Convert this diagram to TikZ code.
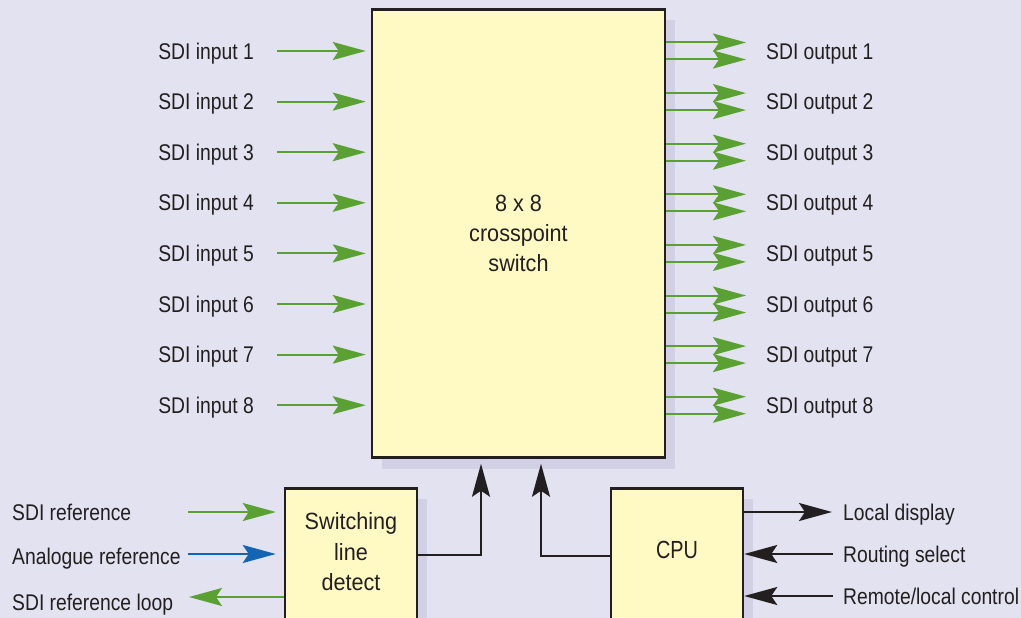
\documentclass[tikz,border=0pt]{standalone}
\usepackage{fontspec}
\setmainfont{Liberation Sans}[FakeStretch=0.85]
\newfontfamily\boxfont{Liberation Sans}[FakeStretch=0.92]
\newfontfamily\cpufont{Liberation Sans}[FakeStretch=0.8]
\usetikzlibrary{arrows.meta,shadows,calc}
\definecolor{bgc}{HTML}{E2E2F0}
\definecolor{boxc}{HTML}{FFF9C3}
\definecolor{shadc}{HTML}{D2D0E5}
\definecolor{grn}{HTML}{5AA032}
\definecolor{blu}{HTML}{1464B4}
\definecolor{ink}{HTML}{231F20}
\tikzset{
  blk/.style={draw=ink, line width=2.5pt, fill=boxc, inner sep=0pt,
    drop shadow={shadow xshift=10pt, shadow yshift=-11pt, fill=shadc, opacity=1}},
  lbl/.style={text=ink, font=\fontsize{22.7}{27}\selectfont, inner sep=0pt,
    text height=16.3pt, text depth=0pt},
  btxt/.style={text=ink, font=\boxfont\fontsize{23.5}{30}\selectfont, align=center, inner sep=0pt},
  tipshape/.style={-{Stealth[length=33pt,width=18pt,inset=6pt]}},
  garrow/.style={draw=grn, line width=2pt, tipshape},
  barrow/.style={draw=blu, line width=2pt, tipshape},
  karrow/.style={draw=ink, line width=2pt, tipshape},
}
\begin{document}
\begin{tikzpicture}[x=1pt,y=-1pt]
\useasboundingbox (0,0) rectangle (1021,618);
\fill[bgc] (0,0) rectangle (1021,618);
\clip (0,0) rectangle (1021,618);

% main crosspoint switch
\node[blk, btxt, minimum width=293pt, minimum height=448pt] (sw) at (518.5,233.5)
  {8 x 8\\crosspoint\\switch};

% inputs and outputs
\foreach \i in {1,...,8}{
  \pgfmathsetmacro\yy{51+50.6*(\i-1)}
  \node[lbl, anchor=east] (in\i) at (254,\yy) {SDI input \i};
  \draw[garrow] ([xshift=23pt]in\i.east) -- ($(sw.west |- in\i.east)+(-5,0)$);
  \node[lbl, anchor=west] (out\i) at (766,\yy) {SDI output \i};
  \draw[garrow] ($(sw.east |- out\i.west)+(0,-8.5)$) -- ($(out\i.west)+(-20,-8.5)$);
  \draw[garrow] ($(sw.east |- out\i.west)+(0,8.5)$) -- ($(out\i.west)+(-20,8.5)$);
}

% switching line detect
\node[blk, minimum width=132pt, minimum height=200pt, anchor=north] (swbox) at (351,487) {};
\node[btxt, font=\boxfont\fontsize{23.5}{30.5}\selectfont] (swtext) at (351,551.7) {Switching\\line\\detect};

% CPU
\node[blk, minimum width=132pt, minimum height=200pt, anchor=north] (cpu) at (677,487) {};
\node[btxt, font=\cpufont\fontsize{24.8}{30}\selectfont] (cputext) at (677,550.4) {CPU};

% left bottom labels
\node[lbl, anchor=west] (sref) at (12,512) {SDI reference};
\node[lbl, anchor=west] (aref) at (12,556.5) {Analogue reference};
\node[lbl, anchor=west] (srefl) at (12,602) {SDI reference loop};
\coordinate (srefS) at (188,512);
\coordinate (arefS) at (188,554);
\coordinate (srefE) at (189,597);
\draw[garrow] (srefS) -- ($(swbox.west |- srefS)+(-8,0)$);
\draw[barrow] (arefS) -- ($(swbox.west |- arefS)+(-8,0)$);
\draw[garrow] (swbox.west |- srefE) -- (srefE);

% connections to switch
\draw[karrow, shorten >=5pt] (swbox.east |- 0,555) -| (sw.south -| 481,0);
\draw[karrow, shorten >=5pt] (cpu.west |- 0,556) -| (sw.south -| 541,0);

% right bottom labels
\node[lbl, anchor=west] (ld) at (843,512) {Local display};
\node[lbl, anchor=west] (rs) at (843,554) {Routing select};
\node[lbl, anchor=west] (rl) at (843,596) {Remote/local control};
\draw[karrow] (cpu.east |- ld.west) -- ([xshift=-11pt]ld.west);
\draw[karrow] ([xshift=-10pt]rs.west) -- (cpu.east |- rs.west);
\draw[karrow] ([xshift=-10pt]rl.west) -- (cpu.east |- rl.west);
\end{tikzpicture}
\end{document}
